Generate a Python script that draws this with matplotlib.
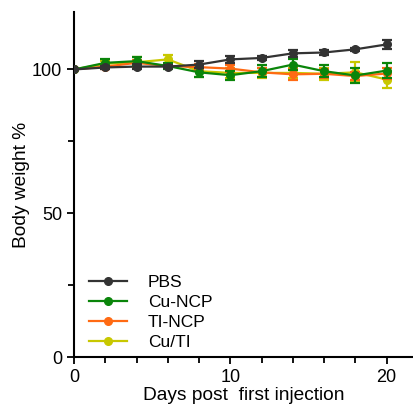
import numpy as np
import matplotlib.pyplot as plt
from matplotlib.lines import Line2D
from matplotlib.ticker import MultipleLocator

plt.rcParams['font.family'] = ['Liberation Sans', 'DejaVu Sans']

days = [0, 2, 4, 6, 8, 10, 12, 14, 16, 18, 20]

pbs = [100, 100.7, 101.0, 101.0, 101.7, 103.5, 104.0, 105.6, 105.9, 107.0, 108.7]
pbs_err = [0, 0.6, 0.8, 0.6, 1.2, 1.3, 0.6, 1.3, 1.0, 0.6, 1.6]

cu_ncp = [100, 102.3, 102.9, 101.2, 99.0, 98.0, 99.4, 101.7, 99.4, 97.9, 99.6]
cu_ncp_err = [0, 1.3, 1.5, 1.0, 1.5, 1.5, 2.0, 2.0, 2.0, 2.5, 2.5]

ti_ncp = [100, 101.0, 102.3, 101.2, 100.8, 100.3, 99.0, 98.3, 98.5, 97.7, 98.6]
ti_ncp_err = [0, 0.8, 1.0, 0.8, 1.0, 1.2, 1.5, 1.8, 1.5, 1.5, 2.0]

cu_ti = [100, 102.0, 102.5, 103.5, 99.4, 98.8, 98.8, 98.8, 98.5, 99.0, 96.5]
cu_ti_err = [0, 1.0, 2.0, 1.5, 2.0, 1.8, 1.8, 1.8, 2.0, 3.5, 3.0]

series = [
    ('PBS', pbs, pbs_err, '#333333', 5),
    ('Cu-NCP', cu_ncp, cu_ncp_err, '#0a850a', 4),
    ('TI-NCP', ti_ncp, ti_ncp_err, '#ff6a13', 3),
    ('Cu/TI', cu_ti, cu_ti_err, '#c8c800', 2),
]

fig = plt.figure(figsize=(4.14, 4.05), dpi=100)
ax = fig.add_axes([0.179, 0.1185, 0.819, 0.852])

handles = []
for label, vals, err, color, z in series:
    ax.errorbar(days, vals, yerr=err, color=color, marker='o',
                markersize=5.5, linewidth=1.6, elinewidth=1.6, capsize=3.5,
                capthick=1.6, zorder=z)
    handles.append(Line2D([], [], color=color, marker='o', markersize=5.5,
                          linewidth=1.6, label=label))

ax.set_xlim(0, 21.7)
ax.set_ylim(0, 120)
ax.xaxis.set_major_locator(MultipleLocator(10))
ax.xaxis.set_minor_locator(MultipleLocator(2))
ax.yaxis.set_major_locator(MultipleLocator(50))
ax.yaxis.set_minor_locator(MultipleLocator(25))
ax.tick_params(which='both', direction='out', width=1.3, labelsize=13)
ax.tick_params(which='major', length=5)
ax.tick_params(which='minor', length=4)

for side in ['top', 'right']:
    ax.spines[side].set_visible(False)
for side in ['left', 'bottom']:
    ax.spines[side].set_linewidth(1.5)

ax.set_xlabel('Days post  first injection', fontsize=13.8, labelpad=1)
ax.set_ylabel('Body weight %', fontsize=13.8, labelpad=1.7)

ax.legend(handles=handles, loc='lower left', frameon=False, fontsize=12.5,
          handlelength=2.2, borderpad=0, borderaxespad=0, labelspacing=0.28,
          handletextpad=1.2, bbox_to_anchor=(0.044, 0.02))

plt.savefig('out.png', dpi=100)
